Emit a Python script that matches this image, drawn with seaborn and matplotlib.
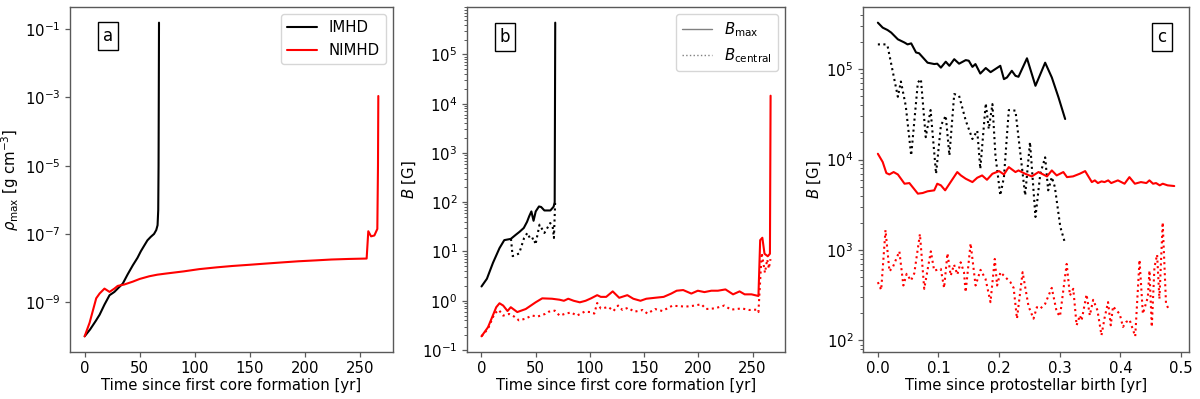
import matplotlib
matplotlib.use("Agg")
import matplotlib.pyplot as plt
from matplotlib.lines import Line2D
import seaborn as sns

# ---- panel a: maximum density ----
a_imhd_t = [0, 5, 10, 13.6, 18, 22.6, 27, 31, 34.6, 39, 43.7, 48, 51, 54, 57, 60, 63, 65, 66.2, 66.8, 67.1, 67.3, 67.5]
a_imhd_rho = [1e-10, 1.6e-10, 2.8e-10, 4.3e-10, 8.5e-10, 1.6e-9, 2.0e-9, 2.7e-9, 3.5e-9, 6.5e-9, 1.2e-8,
              2.0e-8, 3.1e-8, 4.5e-8, 6.5e-8, 8.2e-8, 1.0e-7, 1.3e-7, 1.8e-7, 5e-7, 1e-5, 1e-3, 0.155]
a_nimhd_t = [0, 4.5, 10.5, 13.6, 18, 22.6, 27, 30, 36, 43.7, 50, 58.7, 66, 73.8, 90, 104, 120, 134, 150, 164,
             180, 194, 210, 224, 240, 256, 257.5, 260, 263, 265.7, 266.3, 266.6]
a_nimhd_rho = [1e-10, 2.5e-10, 1.3e-9, 1.8e-9, 2.5e-9, 2.0e-9, 2.5e-9, 3.0e-9, 3.3e-9, 4.0e-9, 4.8e-9, 5.75e-9,
               6.4e-9, 6.9e-9, 8.0e-9, 9.3e-9, 1.05e-8, 1.15e-8, 1.25e-8, 1.35e-8, 1.47e-8, 1.58e-8, 1.68e-8,
               1.78e-8, 1.85e-8, 1.9e-8, 1.2e-7, 8.5e-8, 9e-8, 1.4e-7, 1e-5, 1.1e-3]

# ---- panel b: magnetic field during first core phase ----
b_imhd_max_t = [0, 5, 10.6, 16.6, 21, 24, 27, 31.7, 35, 39, 42, 44, 46, 48, 50, 53, 55, 58, 63.5, 66.5, 67.5, 68]
b_imhd_max = [1.95, 2.8, 5.9, 11.7, 17, 17.5, 18, 21.9, 25, 30, 40, 52, 65, 42, 65, 82, 80, 68, 68, 81, 100, 4.4e5]
b_imhd_cen_t = [27.2, 28.7, 34.7, 39.3, 42.3, 45.3, 48.3, 49.8, 53.5, 58, 63.4, 65.6, 66.8, 68]
b_imhd_cen = [18, 8.05, 9.1, 18.8, 23.8, 17.5, 18.8, 13.8, 35, 23.8, 37.8, 32.4, 18.8, 112]
b_nimhd_max_t = [0, 6, 13.6, 16.6, 20, 24, 27, 33, 40.8, 49.9, 56, 65, 72, 76, 80, 85, 90.7, 96, 101, 106.7,
                 110, 115, 121, 127, 134.5, 140, 146.6, 152, 160, 168, 175, 180, 186, 193.5, 199.5, 205.6,
                 212, 218, 225, 232, 238, 242.7, 249, 255.4, 257, 259, 261, 264, 266, 266.6]
b_nimhd_max = [0.19, 0.29, 0.74, 0.89, 0.8, 0.62, 0.74, 0.59, 0.68, 0.93, 1.12, 1.1, 1.05, 1.0, 1.1, 1.0, 0.93,
               1.0, 1.12, 1.3, 1.2, 1.2, 1.55, 1.15, 1.3, 1.1, 1.0, 1.1, 1.15, 1.2, 1.4, 1.6, 1.65, 1.4, 1.6,
               1.5, 1.6, 1.6, 1.7, 1.35, 1.55, 1.35, 1.35, 1.25, 17, 19, 9, 8, 9, 1.45e4]
b_nimhd_cen_t = [0, 6, 12, 16, 20, 25.5, 30, 34.6, 40, 46.6, 52, 58.6, 62, 67.6, 72, 76.6, 82.6, 88, 95, 100.6,
                 104, 106.7, 110, 112.7, 117, 121.7, 126, 130, 135, 141, 148.7, 153, 160, 166.8, 175.8, 182,
                 188, 195, 202.8, 207, 215, 224, 230, 240, 247, 253.9, 255.4, 258.4, 261.4, 263.5, 265, 266.5]
b_nimhd_cen = [0.19, 0.27, 0.55, 0.65, 0.5, 0.54, 0.48, 0.4, 0.43, 0.5, 0.48, 0.54, 0.6, 0.63, 0.5, 0.54, 0.58,
               0.5, 0.6, 0.59, 0.55, 0.9, 0.7, 0.71, 0.75, 0.62, 0.8, 0.65, 0.72, 0.6, 0.65, 0.55, 0.68, 0.62,
               0.79, 0.78, 0.76, 0.79, 0.85, 0.68, 0.7, 0.8, 0.66, 0.7, 0.65, 0.66, 0.59, 9.4, 3.7, 6.9, 4.5, 7]

# ---- panel c: magnetic field after protostellar birth ----
c_imhd_max_t = [0, 0.008, 0.016, 0.022, 0.033, 0.044, 0.049, 0.055, 0.063, 0.068, 0.082, 0.093, 0.098, 0.104,
                0.112, 0.118, 0.126, 0.134, 0.145, 0.150, 0.156, 0.161, 0.169, 0.178, 0.186, 0.202, 0.208,
                0.213, 0.221, 0.227, 0.232, 0.246, 0.260, 0.276, 0.287, 0.298, 0.309]
c_imhd_max = [3.27e5, 2.88e5, 2.71e5, 2.54e5, 2.14e5, 1.97e5, 1.88e5, 1.93e5, 1.53e5, 1.50e5, 1.18e5, 1.14e5,
              1.15e5, 1.04e5, 1.21e5, 1.09e5, 1.29e5, 1.15e5, 1.26e5, 1.24e5, 1.06e5, 1.14e5, 8.95e4, 1.03e5,
              9.27e4, 1.09e5, 7.76e4, 8.1e4, 9.6e4, 8.45e4, 8.24e4, 1.32e5, 6.55e4, 1.18e5, 8.1e4, 4.88e4, 2.81e4]
c_imhd_cen_t = [0, 0.014, 0.016, 0.033, 0.038, 0.046, 0.055, 0.066, 0.071, 0.079, 0.087, 0.096, 0.104, 0.112,
                0.118, 0.126, 0.134, 0.145, 0.156, 0.164, 0.169, 0.178, 0.183, 0.189, 0.194, 0.202, 0.208,
                0.216, 0.227, 0.243, 0.251, 0.260, 0.268, 0.276, 0.281, 0.287, 0.292, 0.301, 0.309]
c_imhd_cen = [1.88e5, 1.88e5, 1.81e5, 4.95e4, 7.31e4, 3.94e4, 1.11e4, 7.13e4, 7.76e4, 1.77e4, 3.53e4, 6.97e3,
              2.38e4, 3.06e4, 1.11e4, 5.31e4, 5.08e4, 2.7e4, 1.69e4, 2.09e4, 7.9e3, 4.19e4, 2.18e4, 4.11e4,
              1.11e4, 4.02e3, 6.4e3, 3.53e4, 3.48e4, 4.02e3, 1.56e4, 2.32e3, 6.97e3, 1.06e4, 4.57e3, 6.4e3,
              4.97e3, 1.8e3, 1.18e3]
c_nimhd_max_t = [0, 0.008, 0.014, 0.019, 0.026, 0.033, 0.044, 0.052, 0.066, 0.074, 0.082, 0.093, 0.098, 0.104,
                 0.111, 0.120, 0.131, 0.137, 0.145, 0.156, 0.164, 0.172, 0.180, 0.189, 0.200, 0.208, 0.216,
                 0.227, 0.232, 0.243, 0.254, 0.265, 0.279, 0.287, 0.295, 0.306, 0.312, 0.322, 0.333, 0.342,
                 0.353, 0.358, 0.363, 0.369, 0.374, 0.380, 0.385, 0.396, 0.407, 0.415, 0.424, 0.434, 0.443,
                 0.448, 0.454, 0.459, 0.465, 0.470, 0.478, 0.489]
c_nimhd_max = [1.16e4, 9.4e3, 7.1e3, 6.85e3, 7.28e3, 6.85e3, 5.41e3, 5.5e3, 4.2e3, 4.27e3, 4.46e3, 4.57e3,
               5.41e3, 5.19e3, 4.57e3, 5.64e3, 7.28e3, 6.68e3, 6.14e3, 5.64e3, 6.3e3, 6.68e3, 5.98e3, 6.97e3,
               7.46e3, 6.85e3, 8.26e3, 7.28e3, 7.59e3, 6.97e3, 6.52e3, 7.28e3, 6.52e3, 7.59e3, 6.68e3, 7.28e3,
               6.4e3, 6.52e3, 6.97e3, 7.46e3, 5.64e3, 5.89e3, 5.5e3, 5.74e3, 5.64e3, 5.89e3, 5.5e3, 5.89e3,
               5.41e3, 6.4e3, 5.41e3, 5.64e3, 5.5e3, 5.89e3, 5.41e3, 5.5e3, 5.19e3, 5.41e3, 5.19e3, 5.1e3]
c_nimhd_cen_t = [0, 0.0055, 0.0126, 0.0191, 0.0246, 0.0355, 0.0421, 0.0475, 0.0546, 0.0601, 0.0694, 0.0765,
                 0.0874, 0.0929, 0.1038, 0.1093, 0.1148, 0.1202, 0.1257, 0.1311, 0.1366, 0.1421, 0.1448, 0.153,
                 0.1612, 0.1694, 0.1776, 0.1858, 0.1929, 0.1967, 0.2022, 0.2104, 0.2186, 0.224, 0.2295, 0.2388,
                 0.2486, 0.2568, 0.2623, 0.2678, 0.276, 0.2869, 0.2951, 0.3005, 0.3115, 0.3169, 0.3224, 0.3279,
                 0.3333, 0.3361, 0.3443, 0.3497, 0.3552, 0.3623, 0.3689, 0.3743, 0.3798, 0.3842, 0.388, 0.3934,
                 0.3989, 0.4044, 0.4098, 0.4153, 0.4246, 0.4317, 0.4372, 0.4454, 0.4481, 0.4519, 0.4563,
                 0.4607, 0.4645, 0.4699, 0.4754, 0.4809]
c_nimhd_cen = [441, 362, 1660, 582, 644, 966, 405, 545, 459, 553, 1500, 372, 966, 592, 618, 381, 918, 521, 689,
               535, 731, 568, 342, 1183, 405, 603, 479, 265, 796, 405, 568, 500, 441, 381, 174, 568, 238, 174,
               233, 224, 254, 381, 206, 185, 701, 314, 372, 147, 189, 166, 322, 189, 281, 215, 114, 181, 265,
               147, 238, 215, 197, 141, 160, 169, 111, 776, 197, 301, 592, 141, 644, 889, 288, 2018, 254, 215]

# seaborn style, but pulled back to the plain matplotlib look of the reference
sns.set_style("ticks", {
    "axes.edgecolor": "0.35", "axes.labelcolor": "black", "text.color": "black",
    "xtick.color": "0.35", "ytick.color": "0.35",
    "xtick.major.size": 2.5, "ytick.major.size": 2.5,
    "xtick.minor.size": 1.6, "ytick.minor.size": 1.6,
})
plt.rcParams["font.family"] = ["DejaVu Sans"]
plt.rcParams["font.size"] = 10.7
plt.rcParams["xtick.labelcolor"] = "black"
plt.rcParams["ytick.labelcolor"] = "black"
plt.rcParams["axes.linewidth"] = 1.0
plt.rcParams["xtick.major.width"] = 0.9
plt.rcParams["ytick.major.width"] = 0.9
plt.rcParams["ytick.minor.width"] = 0.7
plt.rcParams["xtick.major.pad"] = 3.0
plt.rcParams["ytick.major.pad"] = 3.5
plt.rcParams["axes.labelpad"] = 1.5

fig = plt.figure(figsize=(12, 3.99), dpi=100)
ax_a = fig.add_axes([0.0583, 0.1178, 0.2692, 0.8647])
ax_b = fig.add_axes([0.3892, 0.1178, 0.2650, 0.8647])
ax_c = fig.add_axes([0.7192, 0.1178, 0.2717, 0.8647])

lw = 1.5


def line(ax, x, y, color, ls="-", label=None):
    sns.lineplot(x=x, y=y, ax=ax, color=color, linestyle=ls, linewidth=lw,
                 estimator=None, sort=False, label=label, legend=False)


line(ax_a, a_imhd_t, a_imhd_rho, "black", label="IMHD")
line(ax_a, a_nimhd_t, a_nimhd_rho, "red", label="NIMHD")
ax_a.set_yscale("log")
ax_a.set_ylabel(r"$\rho_{\rm max}$ [g cm$^{-3}$]", labelpad=2.5)
ax_a.set_xlabel("Time since first core formation [yr]")
ax_a.legend(loc="upper right", fontsize=10.7)

line(ax_b, b_imhd_max_t, b_imhd_max, "black")
line(ax_b, b_imhd_cen_t, b_imhd_cen, "black", ":")
line(ax_b, b_nimhd_max_t, b_nimhd_max, "red")
line(ax_b, b_nimhd_cen_t, b_nimhd_cen, "red", ":")
ax_b.set_yscale("log")
ax_b.set_ylabel(r"$B$ [G]", labelpad=2.5)
ax_b.set_xlabel("Time since first core formation [yr]")
handles = [Line2D([], [], color="gray", lw=1, ls="-"),
           Line2D([], [], color="gray", lw=1, ls=":")]
ax_b.legend(handles, [r"$B_{\rm max}$", r"$B_{\rm central}$"], loc="upper right", fontsize=10.7)

line(ax_c, c_imhd_max_t, c_imhd_max, "black")
line(ax_c, c_imhd_cen_t, c_imhd_cen, "black", ":")
line(ax_c, c_nimhd_max_t, c_nimhd_max, "red")
line(ax_c, c_nimhd_cen_t, c_nimhd_cen, "red", ":")
ax_c.set_yscale("log")
ax_c.set_ylabel(r"$B$ [G]", labelpad=2.5)
ax_c.set_xlabel("Time since protostellar birth [yr]")

box = dict(boxstyle="square,pad=0.3", facecolor="white", edgecolor="black", linewidth=1)
ax_a.text(0.118, 0.916, "a", transform=ax_a.transAxes, ha="center", va="center", fontsize=12, bbox=box)
ax_b.text(0.12, 0.913, "b", transform=ax_b.transAxes, ha="center", va="center", fontsize=12, bbox=box)
ax_c.text(0.917, 0.913, "c", transform=ax_c.transAxes, ha="center", va="center", fontsize=12, bbox=box)

fig.savefig("out.png", dpi=100)
